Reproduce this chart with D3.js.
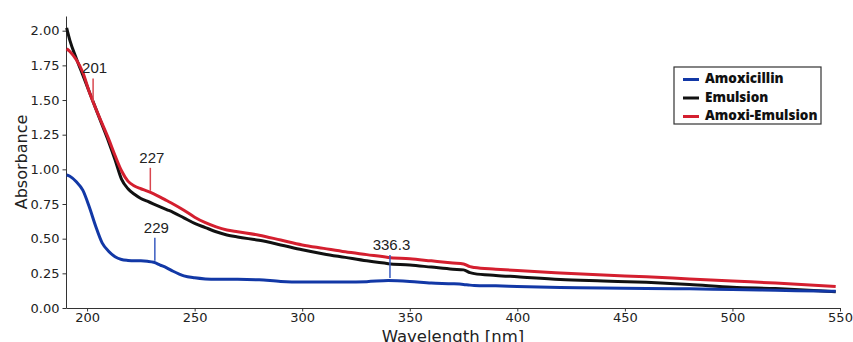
<!DOCTYPE html>
<html>
<head>
<meta charset="utf-8">
<script src="https://cdn.jsdelivr.net/npm/d3@7"></script>
<style>
  body { margin: 0; background: #fff; }
  svg { display: block; }
</style>
</head>
<body>
<svg id="drawing_region"></svg>
<script>
// wavelengths (nm)
const wavelength = [190.5, 192, 195, 198, 201, 204, 207, 210, 213, 216, 219, 222, 225, 228, 231, 234, 237, 240, 245, 250,
  255, 260, 265, 270, 280, 290, 300, 310, 320, 330, 340, 350, 360, 370, 375, 378, 380, 390, 400, 420,
  440, 460, 480, 500, 520, 540, 548];

const amoxicillin = [0.96, 0.95, 0.91, 0.85, 0.73, 0.59, 0.47, 0.41, 0.37, 0.35, 0.343, 0.34, 0.34, 0.337, 0.33, 0.31, 0.29, 0.265, 0.232, 0.218,
  0.21, 0.207, 0.207, 0.207, 0.203, 0.192, 0.188, 0.188, 0.188, 0.19, 0.198, 0.192, 0.18, 0.175, 0.17, 0.165, 0.163, 0.16, 0.155, 0.148,
  0.145, 0.14, 0.138, 0.133, 0.128, 0.122, 0.12];

const emulsion = [2.02, 1.93, 1.80, 1.68, 1.56, 1.44, 1.32, 1.20, 1.07, 0.93, 0.86, 0.82, 0.79, 0.77, 0.75, 0.73, 0.71, 0.69, 0.65, 0.61,
  0.58, 0.55, 0.527, 0.512, 0.488, 0.455, 0.42, 0.39, 0.365, 0.34, 0.32, 0.31, 0.295, 0.28, 0.275, 0.255, 0.248, 0.235, 0.225, 0.205,
  0.195, 0.185, 0.17, 0.15, 0.14, 0.125, 0.118];

const amoxiEmulsion = [1.87, 1.85, 1.79, 1.70, 1.56, 1.44, 1.33, 1.22, 1.10, 0.99, 0.915, 0.88, 0.86, 0.843, 0.823, 0.80, 0.775, 0.75, 0.705, 0.655,
  0.615, 0.585, 0.563, 0.55, 0.525, 0.49, 0.455, 0.43, 0.405, 0.385, 0.365, 0.355, 0.34, 0.325, 0.318, 0.298, 0.292, 0.28, 0.27, 0.253,
  0.238, 0.225, 0.21, 0.195, 0.18, 0.163, 0.155];

const seriesNames = ["Amoxicillin", "Emulsion", "Amoxi-Emulsion"];
const seriesColors = ["#1238a6", "#111111", "#d41f2f"];

const xTicks = [200, 250, 300, 350, 400, 450, 500, 550];
const yTicks = [0, 0.25, 0.5, 0.75, 1.0, 1.25, 1.5, 1.75, 2.0];

// peak annotations: label, wavelength, absorbance at bottom of marker, series index
const peakLabels = ["201", "227", "229", "336.3"];
const peakWl = [202.8, 229.4, 231.5, 340.8];
const peakAbs = [1.49, 0.845, 0.34, 0.217];
const peakSeries = [2, 2, 0, 0];

const width = 853, height = 342;
const margin = {top: 16, right: 13, bottom: 34, left: 66};

const svg = d3.select("#drawing_region")
  .attr("width", width)
  .attr("height", height);

const x = d3.scaleLinear()
  .domain([190.2, 550])
  .range([margin.left, width - margin.right]);

const y = d3.scaleLinear()
  .domain([0, 2.106])
  .range([height - margin.bottom, margin.top]);

const tickFont = "'DejaVu Sans', sans-serif";

// x axis
const xAxis = svg.append("g")
  .attr("transform", `translate(0, ${y(0)})`)
  .call(d3.axisBottom(x).tickValues(xTicks).tickSize(3.5).tickSizeOuter(0).tickFormat(d3.format("d")));

// y axis
const yAxis = svg.append("g")
  .attr("transform", `translate(${x.range()[0]}, 0)`)
  .call(d3.axisLeft(y).tickValues(yTicks).tickSize(3.5).tickSizeOuter(0).tickFormat(d3.format(".2f")));

[xAxis, yAxis].forEach(g => {
  g.select(".domain").attr("stroke", "#333").attr("stroke-width", 1);
  g.selectAll(".tick line").attr("stroke", "#333");
  g.selectAll(".tick text")
    .attr("font-family", tickFont)
    .attr("font-size", "13px")
    .attr("fill", "#222");
});
xAxis.selectAll(".tick text").attr("y", 5);

// axis titles
svg.append("text")
  .attr("x", (x.range()[0] + x.range()[1]) / 2)
  .attr("y", 342)
  .attr("text-anchor", "middle")
  .attr("font-family", tickFont)
  .attr("font-size", "16.5px")
  .attr("fill", "#222")
  .text("Wavelength [nm]");

svg.append("text")
  .attr("transform", `translate(27, ${(y.range()[0] + y.range()[1]) / 2}) rotate(-90)`)
  .attr("text-anchor", "middle")
  .attr("font-family", tickFont)
  .attr("font-size", "16px")
  .attr("fill", "#222")
  .text("Absorbance");

// curves
const series = [amoxicillin, emulsion, amoxiEmulsion];
const line = d3.line()
  .x((d, i) => x(wavelength[i]))
  .y(d => y(d))
  .curve(d3.curveMonotoneX);

// black first, then blue, red on top
[1, 0, 2].forEach(k => {
  svg.append("path")
    .datum(series[k])
    .attr("fill", "none")
    .attr("stroke", seriesColors[k])
    .attr("stroke-width", 3)
    .attr("stroke-linejoin", "round")
    .attr("d", line);
});

// peak markers
const peaks = svg.append("g");
peakLabels.forEach((lab, i) => {
  const px = x(peakWl[i]);
  const py = y(peakAbs[i]);
  peaks.append("line")
    .attr("x1", px).attr("x2", px)
    .attr("y1", py).attr("y2", py - 23)
    .attr("stroke", peakSeries[i] === 2 ? "#d9474f" : "#3a5cc0")
    .attr("stroke-width", 1.5);
  peaks.append("text")
    .attr("x", px + 1.5)
    .attr("y", py - 28)
    .attr("text-anchor", "middle")
    .attr("font-family", "'Liberation Sans', Arial, sans-serif")
    .attr("font-size", "15px")
    .attr("fill", "#222")
    .text(lab);
});

// legend
const legend = svg.append("g").attr("transform", "translate(674, 67)");
legend.append("rect")
  .attr("width", 147)
  .attr("height", 57)
  .attr("fill", "#fff")
  .attr("stroke", "#333")
  .attr("stroke-width", 1.2);

seriesNames.forEach((name, i) => {
  const row = legend.append("g").attr("transform", `translate(0, ${11.5 + i * 18.5})`);
  row.append("line")
    .attr("x1", 9).attr("x2", 25)
    .attr("y1", 1).attr("y2", 1)
    .attr("stroke", seriesColors[i])
    .attr("stroke-width", 3);
  row.append("text")
    .attr("x", 31)
    .attr("y", 0)
    .attr("dy", "0.35em")
    .attr("font-family", "'Open Sans', sans-serif")
    .attr("font-weight", 800)
    .attr("font-size", "13.5px")
    .attr("fill", "#111")
    .text(name);
});
</script>
</body>
</html>
